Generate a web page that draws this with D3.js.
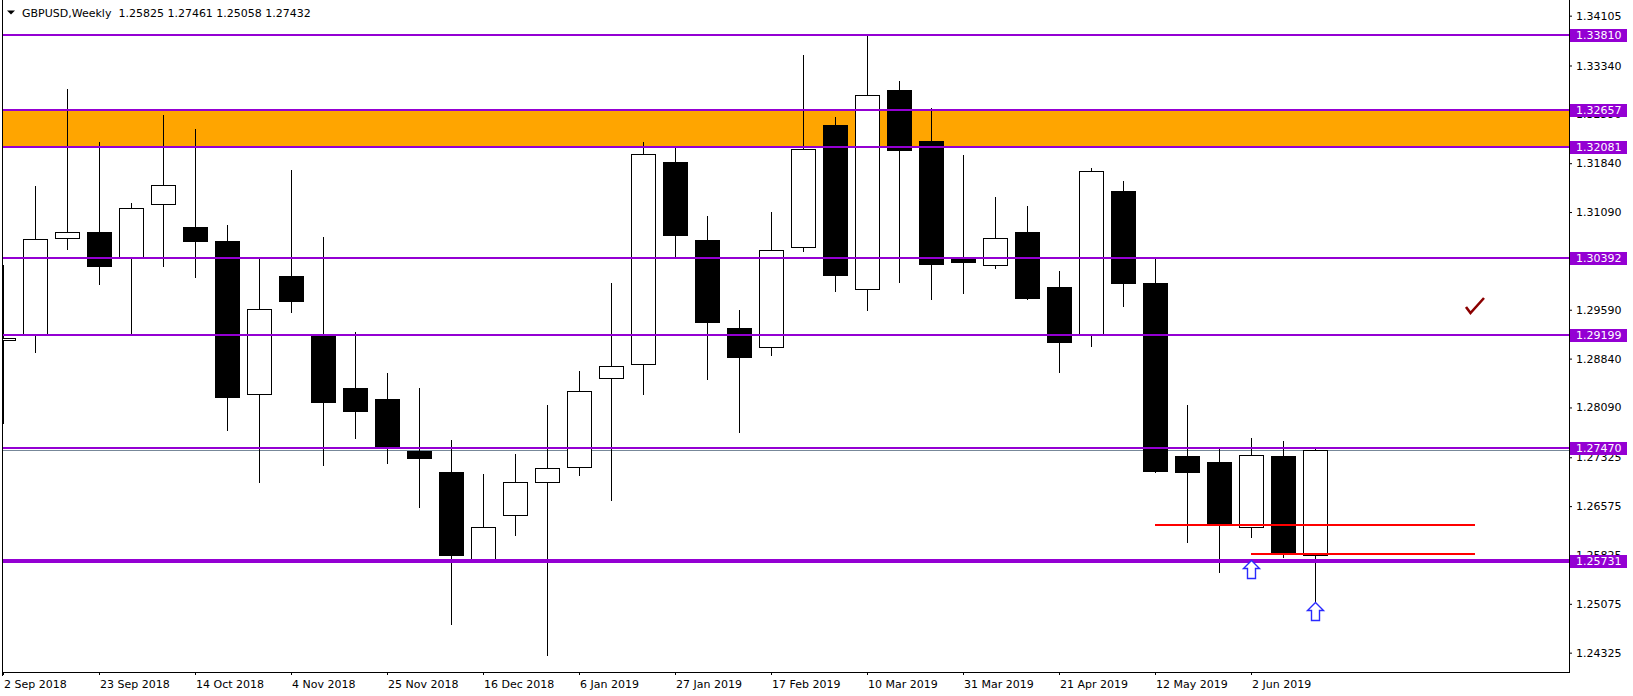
<!DOCTYPE html>
<html>
<head>
<meta charset="utf-8">
<script src="https://cdn.jsdelivr.net/npm/d3@7"></script>
<style>
  html, body { margin: 0; padding: 0; background: #ffffff; }
  svg { display: block; }
  text { font-family: "DejaVu Sans", sans-serif; font-size: 11px; }
</style>
</head>
<body>
<svg id="chart" width="1633" height="696"></svg>
<script>
// ---------------- DATA ----------------
const weeks = ["2 Sep 2018","9 Sep 2018","16 Sep 2018","23 Sep 2018","30 Sep 2018","7 Oct 2018",
  "14 Oct 2018","21 Oct 2018","28 Oct 2018","4 Nov 2018","11 Nov 2018","18 Nov 2018","25 Nov 2018",
  "2 Dec 2018","9 Dec 2018","16 Dec 2018","23 Dec 2018","30 Dec 2018","6 Jan 2019","13 Jan 2019",
  "20 Jan 2019","27 Jan 2019","3 Feb 2019","10 Feb 2019","17 Feb 2019","24 Feb 2019","3 Mar 2019",
  "10 Mar 2019","17 Mar 2019","24 Mar 2019","31 Mar 2019","7 Apr 2019","14 Apr 2019","21 Apr 2019",
  "28 Apr 2019","5 May 2019","12 May 2019","19 May 2019","26 May 2019","2 Jun 2019","9 Jun 2019","16 Jun 2019"];

const open  = [1.29121,1.29213,1.30687,1.30779,1.30389,1.31209,1.30861,1.30646,1.28292,1.30108,1.29222,1.28382,1.28214,1.27417,1.27096,1.25766,1.26442,1.26938,1.27180,1.28538,1.28752,1.31858,1.30661,1.29310,1.29013,1.30549,1.32426,1.29904,1.32959,1.32181,1.30389,1.30272,1.30784,1.29939,1.29213,1.31413,1.30001,1.27345,1.27252,1.26259,1.27345,1.25825];
const high  = [1.30275,1.31490,1.32979,1.32161,1.31229,1.32580,1.32365,1.30891,1.30380,1.31736,1.30710,1.29253,1.28625,1.28382,1.27585,1.27063,1.27369,1.28129,1.28642,1.30001,1.32165,1.32073,1.31029,1.29586,1.31091,1.33501,1.32549,1.33800,1.33102,1.32683,1.31966,1.31321,1.31183,1.30185,1.31766,1.31572,1.30380,1.28128,1.27452,1.27616,1.27575,1.27461];
const low   = [1.27847,1.28946,1.30527,1.29990,1.29213,1.30266,1.30097,1.27748,1.26945,1.29560,1.27206,1.27622,1.27237,1.26563,1.24758,1.25730,1.26135,1.24288,1.27053,1.26669,1.28292,1.30420,1.28527,1.27718,1.28895,1.30497,1.29882,1.29591,1.30021,1.29755,1.29852,1.30235,1.29760,1.28639,1.29038,1.29652,1.27104,1.26029,1.25568,1.26096,1.25789,1.25058];
const close = [1.29152,1.30672,1.30779,1.30266,1.31147,1.31501,1.30650,1.28255,1.29597,1.29724,1.28172,1.28034,1.27486,1.27317,1.25829,1.26262,1.26938,1.27163,1.28345,1.28722,1.31977,1.30742,1.29406,1.28869,1.30503,1.32053,1.30128,1.32882,1.32047,1.30297,1.30328,1.30687,1.29775,1.29099,1.31720,1.30005,1.27119,1.27104,1.26300,1.27355,1.25875,1.27432];

const xTickIndex = [0,3,6,9,12,15,18,21,24,27,30,33,36,39];
const yTicks = [1.34105,1.33340,1.32590,1.31840,1.31090,1.30340,1.29590,1.28840,1.28090,1.27325,1.26575,1.25825,1.25075,1.24325];

const levels = [1.33810,1.32657,1.32081,1.30392,1.29199,1.27470,1.25731];
const supportLevel = 1.25731;
const zone = [1.32081,1.32657];
const bidPrice = 1.27432;

// red horizontal segments: [startIndex, endIndex, price]
const redStart = [36, 39];
const redEnd   = [46, 46];
const redPrice = [1.26285, 1.25840];

// arrows: bar index & price of the tip
const arrowIndex = [39, 41];
const arrowPrice = [1.25748, 1.25103];

// check mark anchor
const checkIndex = [46];
const checkPrice = [1.29540];

const title = "GBPUSD,Weekly  1.25825 1.27461 1.25058 1.27432";

// ---------------- CHART ----------------
const plotL = 2, plotR = 1569, plotB = 672;
const svg = d3.select("#chart");

const x = d3.scaleLinear().domain([0, 1]).range([3, 35]);
const y = d3.scaleLinear().domain([1.24325, 1.34105]).range([652.67, 15.67]);

svg.append("defs").append("clipPath").attr("id", "plotclip")
  .append("rect").attr("x", plotL).attr("y", 0).attr("width", plotR - plotL).attr("height", plotB);

const g = svg.append("g").attr("clip-path", "url(#plotclip)");

// orange zone
g.append("rect")
  .attr("x", plotL).attr("width", plotR - plotL)
  .attr("y", y(zone[1])).attr("height", y(zone[0]) - y(zone[1]))
  .attr("fill", "#FFA500");

// bid line
g.append("line")
  .attr("x1", plotL).attr("x2", plotR)
  .attr("y1", Math.round(y(bidPrice)) + 0.5).attr("y2", Math.round(y(bidPrice)) + 0.5)
  .attr("stroke", "#778899").attr("stroke-width", 1);

// candles
const idx = d3.range(open.length);
const candles = g.append("g").selectAll("g").data(idx).join("g");
candles.append("line")
  .attr("x1", i => Math.round(x(i)) + 0.5).attr("x2", i => Math.round(x(i)) + 0.5)
  .attr("y1", i => Math.round(y(high[i])))
  .attr("y2", i => Math.round(y(low[i])) + 1)
  .attr("stroke", "#000").attr("stroke-width", 1);
candles.append("rect")
  .attr("x", i => Math.round(x(i)) - 12 + 0.5)
  .attr("width", 24)
  .attr("y", i => Math.round(y(Math.max(open[i], close[i]))) + 0.5)
  .attr("height", i => Math.max(1, Math.round(y(Math.min(open[i], close[i]))) - Math.round(y(Math.max(open[i], close[i])))))
  .attr("fill", i => close[i] >= open[i] ? "#ffffff" : "#000000")
  .attr("stroke", "#000").attr("stroke-width", 1);

// purple levels
g.append("g").selectAll("line").data(levels).join("line")
  .attr("x1", plotL).attr("x2", plotR)
  .attr("y1", d => Math.round(y(d))).attr("y2", d => Math.round(y(d)))
  .attr("stroke", "#9400D3")
  .attr("stroke-width", d => d === supportLevel ? 4 : 2);

// red lines
g.append("g").selectAll("line").data(redPrice).join("line")
  .attr("x1", (d, i) => x(redStart[i])).attr("x2", (d, i) => x(redEnd[i]))
  .attr("y1", d => Math.round(y(d))).attr("y2", d => Math.round(y(d)))
  .attr("stroke", "#FF0000").attr("stroke-width", 2);

// arrows
g.append("g").selectAll("path").data(arrowPrice).join("path")
  .attr("d", (d, i) => {
    const tx = Math.round(x(arrowIndex[i])) + 0.5, ty = Math.round(y(d)) + 0.5;
    return `M${tx},${ty} L${tx + 8},${ty + 8} L${tx + 4},${ty + 8} L${tx + 4},${ty + 18} L${tx - 4},${ty + 18} L${tx - 4},${ty + 8} L${tx - 8},${ty + 8} Z`;
  })
  .attr("fill", "#ffffff").attr("stroke", "#2a2aff").attr("stroke-width", 1.4);

// check mark
g.append("g").selectAll("path").data(checkPrice).join("path")
  .attr("d", (d, i) => {
    const cx = x(checkIndex[i]), cy = y(d);
    return `M${cx - 9},${cy - 6} L${cx - 4.5},${cy} L${cx + 9},${cy - 15}`;
  })
  .attr("fill", "none").attr("stroke", "#8B0000").attr("stroke-width", 2.6)
  .attr("stroke-linejoin", "miter");

// frame lines
svg.append("line").attr("x1", plotL + 0.5).attr("x2", plotL + 0.5).attr("y1", 0).attr("y2", plotB + 4).attr("stroke", "#000");
svg.append("line").attr("x1", plotR + 0.5).attr("x2", plotR + 0.5).attr("y1", 0).attr("y2", plotB + 1).attr("stroke", "#000");
svg.append("line").attr("x1", plotL).attr("x2", plotR + 1).attr("y1", plotB + 0.5).attr("y2", plotB + 0.5).attr("stroke", "#000");

// right axis
const yAxis = d3.axisRight(y).tickValues(yTicks).tickSize(3).tickPadding(4).tickFormat(d3.format(".5f"));
const ya = svg.append("g").attr("transform", `translate(${plotR},0)`).call(yAxis);
ya.select(".domain").remove();
ya.selectAll("text").attr("font-family", "DejaVu Sans").attr("font-size", 11).attr("fill", "#000");
ya.selectAll("line").attr("stroke", "#000");

// bottom axis
const xAxis = d3.axisBottom(x).tickValues(xTickIndex).tickSize(3).tickFormat(i => weeks[i]);
const xa = svg.append("g").attr("transform", `translate(0,${plotB})`).call(xAxis);
xa.select(".domain").remove();
xa.selectAll("text").attr("text-anchor", "start").attr("x", 0.5).attr("y", 16).attr("dy", null)
  .attr("font-family", "DejaVu Sans").attr("font-size", 11).attr("fill", "#000");
xa.selectAll("line").attr("stroke", "#000");

// level labels on price axis
const lab = svg.append("g").selectAll("g").data(levels).join("g");
lab.append("rect")
  .attr("x", plotR + 1).attr("width", 57)
  .attr("y", d => Math.round(y(d)) - 6).attr("height", 13)
  .attr("fill", "#9400D3");
lab.append("text")
  .attr("x", 1576).attr("y", d => Math.round(y(d)) + 0.5).attr("dy", "0.35em")
  .attr("fill", "#ffffff")
  .text(d => d3.format(".5f")(d));

// title
svg.append("path").attr("d", "M7,10.5 L15,10.5 L11,14.5 Z").attr("fill", "#000");
svg.append("text").attr("x", 22).attr("y", 17).attr("fill", "#000").attr("xml:space", "preserve")
  .style("white-space", "pre").text(title);
</script>
</body>
</html>
